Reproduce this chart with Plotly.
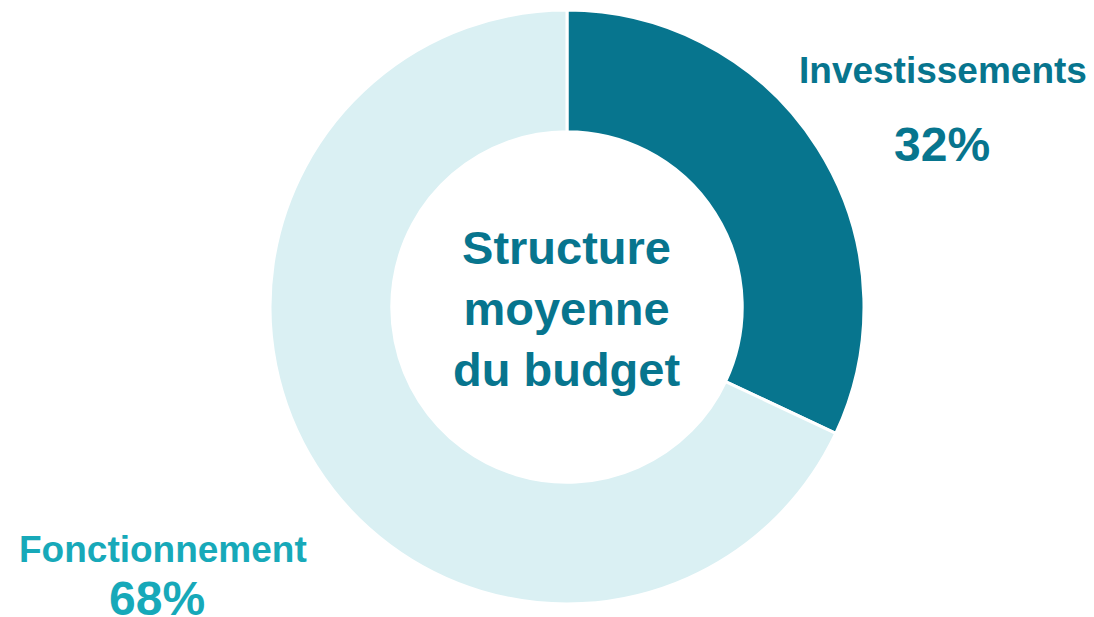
import plotly.graph_objects as go

labels = ["Investissements", "Fonctionnement"]
values = [32, 68]
slice_colors = ["#07758E", "#DAF0F3"]
label_colors = ["#07758E", "#17A9B9"]
center_title = "Structure<br>moyenne<br>du budget"

W, H = 1094, 617
OFF = 8  # page body margin offset
cx, cy, R = 567 - OFF, 307 - OFF, 297

fig = go.Figure(go.Pie(
    labels=labels, values=values, hole=0.59, sort=False, direction="clockwise",
    rotation=0, textinfo="none", hoverinfo="label+percent",
    marker=dict(colors=slice_colors, line=dict(color="white", width=3)),
    domain=dict(x=[(cx - R) / W, (cx + R) / W], y=[(H - cy - R) / H, (H - cy + R) / H]),
    showlegend=False,
))

font = "Arial, Liberation Sans, sans-serif"
total = sum(values)
pos = [((943, 70), (942, 145)), ((163, 549), (157, 598))]


def px(x, y):
    return (x - OFF) / W, 1 - (y - OFF) / H


anns = []
for lab, v, col, (p1, p2) in zip(labels, values, label_colors, pos):
    x1, y1 = px(*p1)
    x2, y2 = px(*p2)
    anns.append(dict(x=x1, y=y1, xref="paper", yref="paper", xanchor="center", yanchor="middle",
                     text=f"<b>{lab}</b>", showarrow=False,
                     font=dict(family=font, size=37, color=col)))
    anns.append(dict(x=x2, y=y2, xref="paper", yref="paper", xanchor="center", yanchor="middle",
                     text=f"<b>{round(100 * v / total)}%</b>", showarrow=False,
                     font=dict(family=font, size=48, color=col)))
xc, yc = px(566, 308)
anns.append(dict(x=xc, y=yc, xref="paper", yref="paper", xanchor="center", yanchor="middle",
                 text=f"<b>{center_title}</b>", showarrow=False,
                 font=dict(family=font, size=47, color="#07758E")))

fig.update_layout(width=W, height=H, margin=dict(l=0, r=0, t=0, b=0),
                  paper_bgcolor="white", plot_bgcolor="white", annotations=anns)
fig.write_html("out.html")
